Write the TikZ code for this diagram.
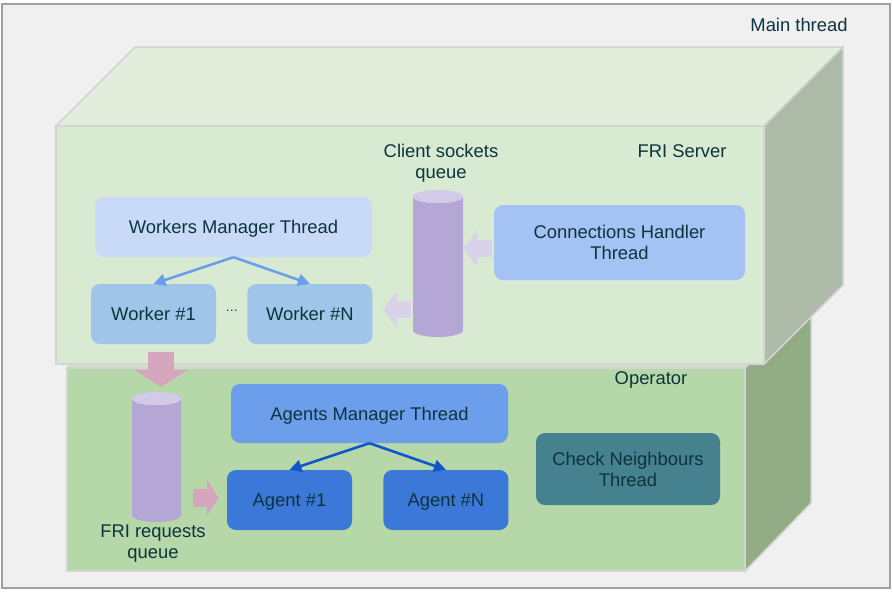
\documentclass[tikz,border=0pt]{standalone}
\usepackage{fontspec}
\setmainfont{Liberation Sans}
\usepackage{tikz}
\usetikzlibrary{positioning}
\usetikzlibrary{shapes.geometric}
\usetikzlibrary{arrows.meta}
\definecolor{txtcol}{HTML}{0C343D}
\definecolor{framefill}{HTML}{F0F0F0}
\definecolor{framedraw}{HTML}{A0A0A0}
\definecolor{cubeedge}{HTML}{D4D4D4}
\definecolor{frifront}{HTML}{D9EAD3}
\definecolor{fritop}{HTML}{E2EEDB}
\definecolor{friside}{HTML}{AEBBA9}
\definecolor{opfront}{HTML}{B6D7A8}
\definecolor{optop}{HTML}{CFE3C5}
\definecolor{opside}{HTML}{92AC86}
\definecolor{wmfill}{HTML}{C9DAF8}
\definecolor{wfill}{HTML}{9FC5E8}
\definecolor{chfill}{HTML}{A4C2F4}
\definecolor{amfill}{HTML}{6D9EEB}
\definecolor{afill}{HTML}{3C78D8}
\definecolor{cnfill}{HTML}{45818E}
\definecolor{qbody}{HTML}{B4A7D6}
\definecolor{qtop}{HTML}{D2CAE8}
\definecolor{lavarrow}{HTML}{D9D2E9}
\definecolor{pinkarrow}{HTML}{D5A6BD}
\definecolor{wlinkcol}{HTML}{6D9EEB}
\definecolor{alinkcol}{HTML}{1155CC}

\begin{document}
\begin{tikzpicture}[x=1pt,y=-1pt,font=\fontsize{18.4}{21}\selectfont,text=txtcol,
	thread/.style={rounded corners=9pt,minimum height=60pt,inner sep=0pt,align=center,text depth=0pt},
	queue/.style={cylinder,shape border rotate=90,aspect=.27,anchor=shape center,cylinder uses custom fill,cylinder body fill=qbody,cylinder end fill=qtop,minimum width=50pt,inner sep=24.5pt},
	link/.style={line width=2.6pt,-{Triangle[length=12pt,width=12pt]}},
	fat/.style={line width=17pt,-{Triangle[length=14pt,width=36pt]}}]
	\useasboundingbox (0,0) rectangle (893,592);
	\draw [line width=2pt,draw=framedraw,fill=framefill] (1.5,4) rectangle (890,588);
	\draw [line width=1.5pt,draw=cubeedge,fill=optop] (67,368) -- (133,302) -- (811,302) -- (745,368) -- cycle;
	\draw [line width=1.5pt,draw=cubeedge,fill=opside] (745,368) -- (811,302) -- (811,503) -- (745,571) -- cycle;
	\draw [line width=1.5pt,draw=cubeedge,fill=opfront] (67,368) rectangle (745,571);
	\draw [line width=1.5pt,draw=cubeedge,fill=fritop] (56,126) -- (135,47) -- (843,47) -- (764,126) -- cycle;
	\draw [line width=1.5pt,draw=cubeedge,fill=friside] (764,126) -- (843,47) -- (843,285) -- (764,364) -- cycle;
	\draw [line width=1.5pt,draw=cubeedge,fill=frifront] (56,126) rectangle (764,364);
	\node at (799,25) (mainlbl) {Main thread};
	\node at (682,151) (frilbl) {FRI Server};
	\node at (651,380) (oplbl) {Operator};
	\node [thread,fill=wmfill,minimum width=277pt] at (233.5,227) (wm) {Workers Manager Thread};
	\node [thread,fill=wfill,minimum width=125pt] at (153.5,314) (w1) {Worker \#1};
	\node [thread,fill=wfill,minimum width=125pt,right=31pt of w1] (wn) {Worker \#N};
	\node [right=0pt of w1,minimum width=31pt,inner sep=0pt,yshift=3pt] (wdots) {\fontsize{13}{14}\selectfont …};
	\draw [link,wlinkcol] (wm.south) -- (w1.north); \draw [link,wlinkcol] (wm.south) -- (wn.north);
	\node [queue,minimum height=147pt] at (438,263.5) (csq) {};
	\node [align=center] at (441,163) (csqlbl) {Client sockets\\queue};
	\node [thread,fill=chfill,minimum width=251pt,minimum height=75pt] at (619.5,242.5) (ch) {Connections Handler\\Thread};
	\coordinate [below=6pt of ch.west] (chout); \coordinate [above right=4.5pt and 10pt of wn.east] (wnin);
	\draw [fat,lavarrow,shorten <=2pt] (chout) -- (chout -| csq.east);
	\draw [fat,lavarrow,shorten <=2pt] (wnin -| csq.west) -- (wnin);
	\node [thread,fill=amfill,minimum width=277pt,minimum height=59pt] at (369.5,413.5) (am) {Agents Manager Thread};
	\node [thread,fill=afill,minimum width=125pt] at (289.5,500) (a1) {Agent \#1};
	\node [thread,fill=afill,minimum width=125pt,right=31pt of a1] (an) {Agent \#N};
	\draw [link,alinkcol] (am.south) -- (a1.north); \draw [link,alinkcol] (am.south) -- (an.north);
	\node [thread,fill=cnfill,minimum width=184pt,minimum height=72pt] at (628,469) (cn) {Check Neighbours\\Thread};
	\node [queue,minimum width=49pt,minimum height=130pt] at (156.5,457) (frq) {};
	\node [align=center] at (153,544) (frqlbl) {FRI requests\\queue};
	\coordinate [below right=8pt and 7.5pt of w1.south] (w1out); \coordinate [above left=2pt and 8pt of a1.west] (a1in);
	\draw [pinkarrow,line width=26pt,-{Triangle[length=17pt,width=53pt]},shorten >=5pt] (w1out) -- (w1out |- frq.north);
	\draw [pinkarrow,line width=18pt,-{Triangle[length=12pt,width=36pt]},shorten <=12pt] (a1in -| frq.east) -- (a1in);
\end{tikzpicture}
\end{document}
